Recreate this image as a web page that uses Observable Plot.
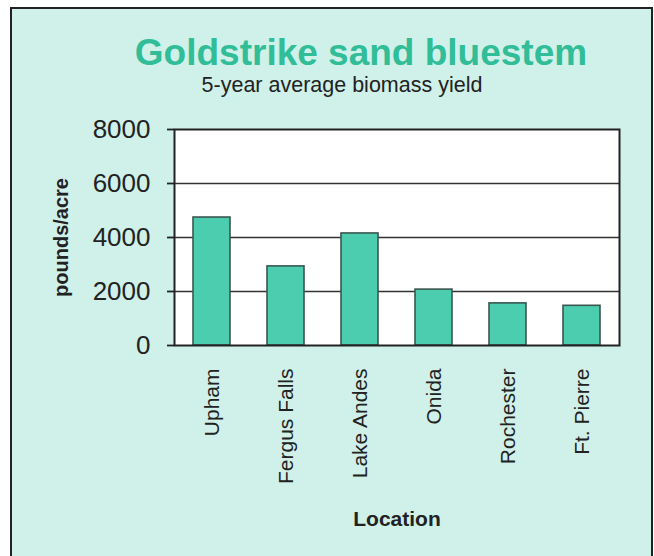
<!DOCTYPE html>
<html>
<head>
<meta charset="utf-8">
<script src="https://cdn.jsdelivr.net/npm/d3@7"></script>
<script src="https://cdn.jsdelivr.net/npm/@observablehq/plot@0.6"></script>
<style>
  html, body { margin: 0; padding: 0; background: #ffffff; overflow: hidden; }
  body { width: 654px; height: 556px; position: relative; font-family: "Liberation Sans", Arial, sans-serif; }
  #box { position: absolute; left: 10px; top: 7px; width: 643px; height: 570px; box-sizing: border-box;
         border: 2px solid #222; background: #cff1e9; }
  #title { position: absolute; left: 361px; top: 34px; transform: translateX(-50%); white-space: nowrap;
           font-size: 37px; line-height: 37px; font-weight: bold; color: #30bd98; }
  #subtitle { position: absolute; left: 342px; top: 75px; transform: translateX(-50%); white-space: nowrap;
              font-size: 21.5px; line-height: 21.5px; color: #222; }
  #chart { position: absolute; left: 12px; top: 100px; }
  #chart svg { background: transparent; overflow: visible; }
</style>
</head>
<body>
<div id="box"></div>
<div id="title">Goldstrike sand bluestem</div>
<div id="subtitle">5-year average biomass yield</div>
<div id="chart"></div>
<script>
const locations = ["Upham", "Fergus Falls", "Lake Andes", "Onida", "Rochester", "Ft. Pierre"];
const yields = [4740, 2930, 4150, 2070, 1560, 1470];
const yTicks = [0, 2000, 4000, 6000, 8000];
const gridTicks = [2000, 4000, 6000];
const yLabel = "pounds/acre";
const xLabel = "Location";

const data = locations.map((loc, i) => ({loc, val: yields[i]}));

const chart = Plot.plot({
  width: 638,
  height: 450,
  marginLeft: 162,
  marginRight: 31,
  marginTop: 29,
  marginBottom: 205,
  style: {fontFamily: "Liberation Sans, Arial, sans-serif", color: "#222", background: "transparent"},
  x: {domain: locations, paddingInner: 0.5, paddingOuter: 0.25},
  y: {domain: [0, 8000]},
  marks: [
    Plot.frame({fill: "white", stroke: null}),
    Plot.gridY(gridTicks, {stroke: "#333", strokeOpacity: 1, strokeWidth: 1.3}),
    Plot.barY(data, {x: "loc", y: "val", fill: "#4ccdb0", stroke: "#3a5650", strokeWidth: 1.6}),
    Plot.frame({stroke: "#222", strokeWidth: 2}),
    Plot.ruleX([0], {frameAnchor: "left", stroke: "#222", strokeWidth: 2.5}),
    Plot.axisY({ticks: yTicks, tickFormat: d3.format("d"), tickSize: 7, tickPadding: 17, fontSize: 26, label: null, stroke: "#222", strokeWidth: 1.8}),
    Plot.axisX({tickRotate: -90, tickSize: 0, tickPadding: 23, fontSize: 21, label: null}),
    Plot.text([yLabel], {frameAnchor: "left", dx: -113, rotate: -90, textAnchor: "middle", lineAnchor: "middle", fontSize: 20, fontWeight: "bold", fill: "#222"}),
    Plot.text([xLabel], {frameAnchor: "bottom", dy: 180, lineAnchor: "bottom", fontSize: 21, fontWeight: "bold", fill: "#222"})
  ]
});
document.getElementById("chart").appendChild(chart);
</script>
</body>
</html>
